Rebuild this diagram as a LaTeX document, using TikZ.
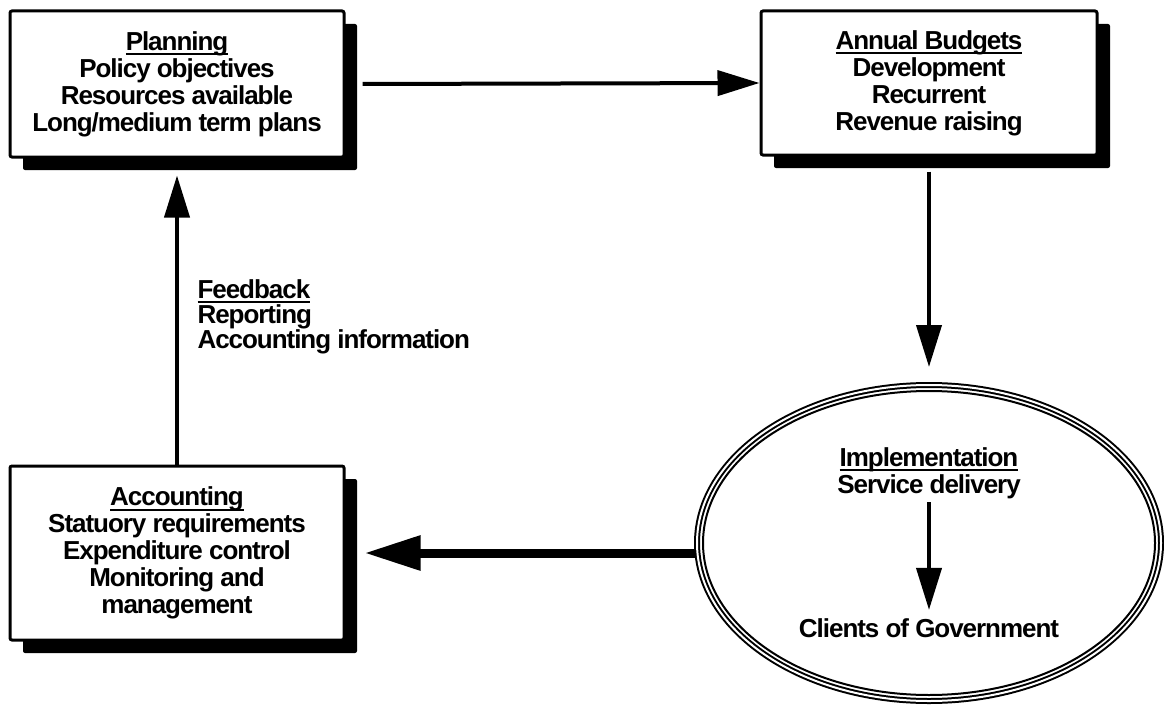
\documentclass[tikz,border=0pt]{standalone}
\usepackage{fontspec}
\setmainfont{Liberation Sans}[LetterSpace=-4]
\newcommand{\headul}[1]{\setbox0\hbox{#1}\rlap{\vrule height -3pt depth 5pt width \wd0}\box0}
\usetikzlibrary{positioning, shapes.geometric, shadows, arrows.meta}

\begin{document}
\begin{tikzpicture}[x=1pt, y=-1pt,
    font=\bfseries\fontsize{26}{27}\selectfont,
    stage/.style={draw, line width=3pt, rounded corners=2pt, fill=white, align=center, minimum width=334pt,
        drop shadow={shadow xshift=13pt, shadow yshift=-13pt, opacity=1, fill=black}},
    flow/.style={-{Triangle[length=42pt, width=25pt]}, line width=4pt},
    bigflow/.style={-{Triangle[length=56pt, width=33pt]}, line width=9pt}]
    \useasboundingbox (0,0) rectangle (1164,706);
    \node[stage, minimum height=146pt] (plan) at (177, 84) {\headul{Planning}\\Policy objectives\\Resources available\\Long/medium term plans};
    \node[stage, minimum width=336pt, minimum height=144pt] (budget) at (929, 83) {\headul{Annual Budgets}\\Development\\Recurrent\\Revenue raising};
    \node[stage, minimum height=174pt] (acc) at (177, 553) {\headul{Accounting}\\Statuory requirements\\Expenditure control\\Monitoring and\\management};
    \node[ellipse, draw, line width=2pt, double, double distance=2pt, minimum width=464pt, minimum height=316pt] (impl) at (929, 543) {};
    \node[ellipse, draw, line width=2pt, minimum width=452pt, minimum height=304pt] at (impl.center) {};
    \node[align=center] (impltxt) at (929, 473) {\headul{Implementation}\\Service delivery};
    \node (clients) at (929, 628) {Clients of Government};
    \node[anchor=north west, align=left, font=\bfseries\fontsize{26}{23}\selectfont] (fb) at (194, 276) {\headul{Feedback}\\Reporting\\Accounting information};
    \draw[flow] ([xshift=17pt]plan.east) -- (budget.west);
    \draw[flow, shorten >=17pt] ([yshift=-15pt]budget.south) -- (impl.north);
    \draw[flow, shorten >=5pt] (impltxt.south) -- (clients.north);
    \draw[bigflow] (acc.east -| impl.west) -- ([xshift=19pt]acc.east);
    \draw[flow] (acc.north) -- ([yshift=-17pt]plan.south);
\end{tikzpicture}
\end{document}
